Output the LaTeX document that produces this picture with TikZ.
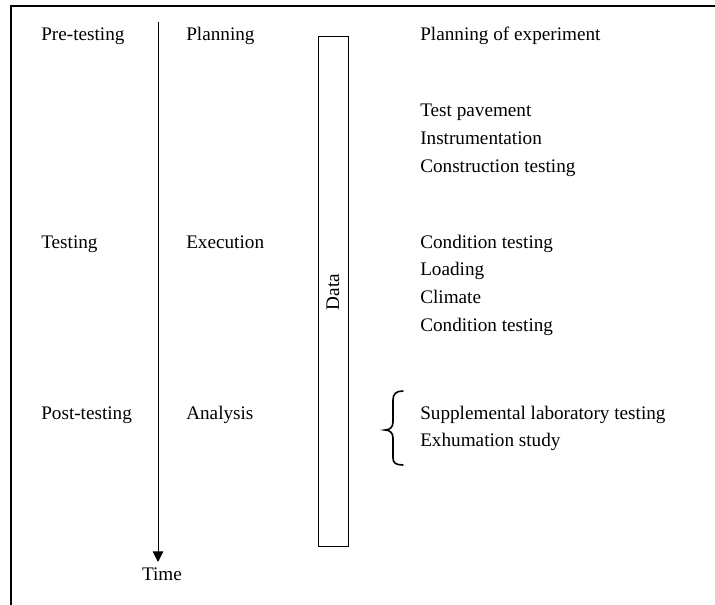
\documentclass[tikz,border=0pt]{standalone}
\usepackage{fontspec}
\setmainfont{Liberation Serif}
\usetikzlibrary{arrows.meta}
\begin{document}
\begin{tikzpicture}[x=0.75pt,y=-0.75pt,
  lbl/.style={anchor=base west,inner sep=0pt,font=\fontsize{14.4}{17}\selectfont},
  frameline/.style={line width=1.1pt},
  thin/.style={line width=0.75pt}]
\useasboundingbox (0,0) rectangle (715,605);
% frame
\coordinate (fb) at (11,605);
\coordinate (fc) at (11,6);
\coordinate (fr) at (715,6);
\draw[frameline] (fb) -- (fc) -- (fr);
% column texts
\node[lbl] (pre) at (41,41) {Pre-testing};
\node[lbl] (plan) at (186,41) {Planning};
\node[lbl] (test) at (41,249) {Testing};
\node[lbl] (exec) at (186,249) {Execution};
\node[lbl] (post) at (41,420) {Post-testing};
\node[lbl] (ana) at (186,420) {Analysis};
% time arrow
\coordinate (ttop) at (158,22);
\coordinate (tend) at (158,562);
\draw[thin,-{Triangle[width=8pt,length=8pt]}] (ttop) -- (tend);
\node[anchor=base,inner sep=0pt,font=\fontsize{14.4}{17}\selectfont] (time) at (162,581) {Time};
% data box
\node[draw,thin,rotate=90,minimum width=382.5pt,minimum height=22.5pt,inner sep=0pt,
  font=\fontsize{14.4}{17}\selectfont] (data) at (333,292) {Data};
% right texts
\node[lbl] (poe) at (420,41) {Planning of experiment};
\node[lbl] (tp) at (420,117) {Test pavement};
\node[lbl] (ins) at (420,145) {Instrumentation};
\node[lbl] (ct) at (420,173) {Construction testing};
\node[lbl] (cd1) at (420,249) {Condition testing};
\node[lbl] (ld) at (420,276) {Loading};
\node[lbl] (cl) at (420,304) {Climate};
\node[lbl] (cd2) at (420,332) {Condition testing};
\node[lbl] (sup) at (420,420) {Supplemental laboratory testing};
\node[lbl] (exh) at (420,447) {Exhumation study};
% brace
\draw[line width=1.2pt,line cap=round] (403,391) .. controls (396,391) and (393,394) .. (393,400)
  -- (393,422) .. controls (393,427) and (390,430) .. (385,430)
  .. controls (390,430) and (393,433) .. (393,438) -- (393,458)
  .. controls (393,463) and (396,465) .. (403,465);
\end{tikzpicture}
\end{document}
